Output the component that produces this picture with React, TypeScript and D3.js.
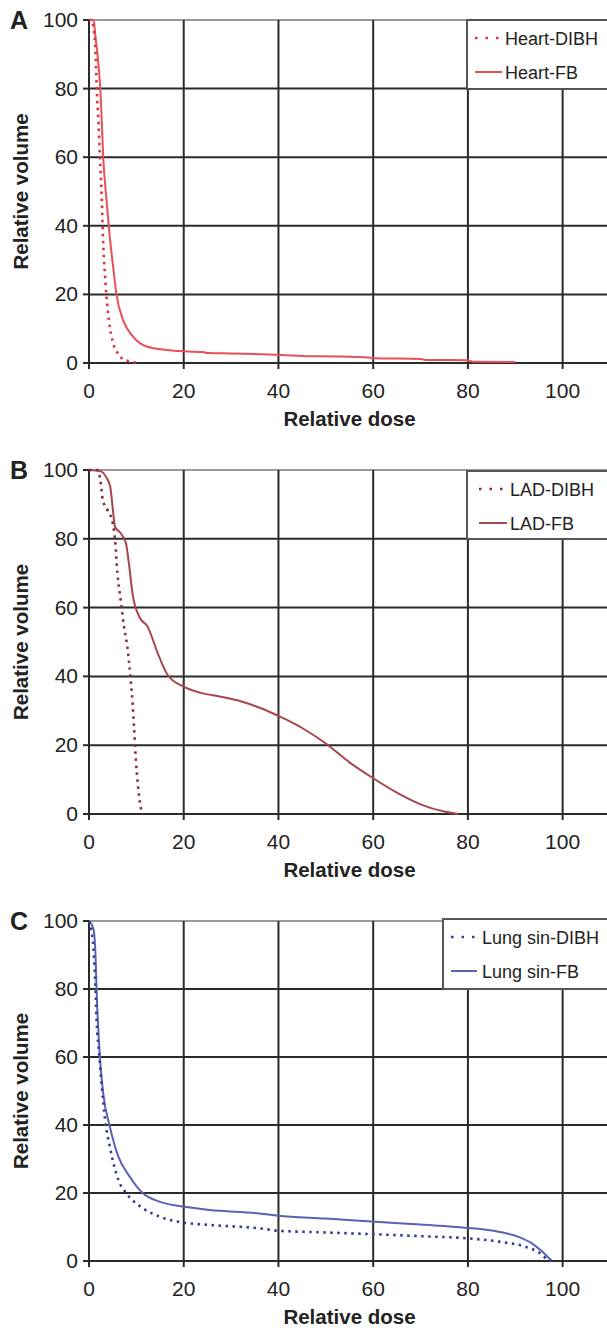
import React from "react";
import * as d3 from "d3";

// ---------- data ----------
const xTicks = [0, 20, 40, 60, 80, 100];
const yTicks = [0, 20, 40, 60, 80, 100];
const panelLetters = ["A", "B", "C"];
const seriesNames = [
  ["Heart-DIBH", "Heart-FB"],
  ["LAD-DIBH", "LAD-FB"],
  ["Lung sin-DIBH", "Lung sin-FB"],
];

const heartDIBH: [number, number][] = [
  [0, 100], [0.6, 100], [1.0, 97], [1.3, 93], [1.6, 81], [2.0, 70], [2.3, 60],
  [2.7, 47.5], [3.0, 35], [3.5, 23], [4.2, 12.5], [5.1, 5.8], [6.0, 3.0],
  [6.9, 1.4], [8.5, 0.5], [10, 0.1],
];
const heartFB: [number, number][] = [
  [0, 100], [1, 100], [1.3, 96], [2, 87], [2.5, 77], [3, 60], [3.7, 47.5],
  [4.3, 38], [5.1, 28], [5.8, 20], [7.2, 12.5], [9.3, 7.7], [12.2, 4.8],
  [16.4, 3.8], [20, 3.4], [24, 3.2], [25, 2.9], [30, 2.8], [38, 2.5], [46, 2.0],
  [52, 1.9], [59, 1.6], [60, 1.4], [70, 1.2], [71, 0.9], [80, 0.8], [81, 0.4],
  [90, 0.3],
];
const ladDIBH: [number, number][] = [
  [0, 100], [1.8, 100], [2.5, 96], [2.9, 91.3], [3.9, 88.4], [5.0, 84.6],
  [5.5, 79.7], [6.0, 70], [6.6, 63.2], [7.4, 54.4], [8.1, 48.6], [8.8, 39],
  [9.2, 32.2], [9.5, 25.4], [9.9, 15.7], [10.3, 8.9], [10.9, 2.1], [11.4, 0],
];
const ladFB: [number, number][] = [
  [0, 100], [2.5, 99.6], [3.6, 98], [4.5, 95], [5.0, 89], [5.5, 83.5],
  [6.7, 81.6], [7.8, 78.7], [8.5, 72], [9.2, 64], [10.6, 57.4], [12.4, 54.4],
  [14.5, 46.8], [16.6, 40.4], [20, 37], [23.6, 35.2], [27.8, 34.1], [32, 32.8],
  [36.2, 30.8], [40, 28.5], [45, 25], [50, 20.5], [55, 15], [60, 10.4],
  [65, 6.2], [70, 2.8], [75, 0.7], [78, 0],
];
const lungDIBH: [number, number][] = [
  [0, 100], [0.6, 96.4], [0.9, 92.4], [1.3, 82.6], [1.6, 70.9], [2.2, 60],
  [2.7, 51.3], [3.4, 41.5], [4.4, 33.6], [6.2, 23.8], [7.9, 19.9], [11.4, 15.5],
  [15, 13], [19.9, 11.3], [25.5, 10.6], [36, 9.6], [40, 8.9], [50, 8.4],
  [59.7, 7.9], [70, 7.3], [79.5, 6.7], [86.5, 5.7], [92.1, 4.2], [95, 2.5],
  [97, 0.3], [97.7, 0],
];
const lungFB: [number, number][] = [
  [0, 100], [0.9, 97.8], [1.3, 92.4], [1.6, 79.7], [2.3, 60], [3.0, 49.3],
  [4.4, 39.5], [6.2, 30.7], [8.6, 24.8], [11.4, 19.9], [15, 17.4], [19.9, 16],
  [25.5, 15], [36, 14], [40, 13.3], [50, 12.5], [59.7, 11.6], [70, 10.7],
  [79.5, 9.8], [86.5, 8.6], [90.7, 7.1], [93.5, 5.2], [95.5, 3], [97.7, 0],
];

const panelSeries = [
  [heartDIBH, heartFB],
  [ladDIBH, ladFB],
  [lungDIBH, lungFB],
];

// ---------- layout / style ----------
const W = 607;
const H = 1329;
const FONT = "Liberation Sans, Arial, Helvetica, sans-serif";
const panels = [
  { top: 20, bottom: 363, legX: 467, legTop: 20, legBottom: 89, sx0: 8, sx1: 35, tx: 38, colors: ["#e0303e", "#e8505a"] },
  { top: 470, bottom: 814, legX: 467, legTop: 471, legBottom: 539, sx0: 12, sx1: 40, tx: 43, colors: ["#8e2a3c", "#a8464f"] },
  { top: 921, bottom: 1261, legX: 443, legTop: 919, legBottom: 989, sx0: 8, sx1: 34, tx: 39, colors: ["#343c98", "#5a62b2"] },
];
const xLeft = 89;
const xRight = 610;
const gridColor = "#2b2b2b";

function Panel({ idx }: { idx: number }) {
  const p = panels[idx];
  const x = d3.scaleLinear().domain([0, 110]).range([xLeft, xRight]);
  const y = d3.scaleLinear().domain([0, 100]).range([p.bottom, p.top]);
  const line = d3
    .line<[number, number]>()
    .x((d) => x(d[0]))
    .y((d) => y(d[1]))
    .curve(d3.curveMonotoneX);
  const [dibh, fb] = panelSeries[idx];
  const names = seriesNames[idx];
  const row1 = p.legTop + 18;
  const row2 = p.legTop + 52;
  return (
    <g>
      <line x1={xLeft} x2={W + 5} y1={y(100)} y2={y(100)} stroke="#9a9a9a" strokeWidth={2} />
      {yTicks.filter((t) => t > 0 && t < 100).map((t) => (
        <line key={"h" + t} x1={xLeft} x2={W + 5} y1={y(t)} y2={y(t)} stroke={gridColor} strokeWidth={2} />
      ))}
      {xTicks.filter((t) => t > 0).map((t) => (
        <line key={"v" + t} x1={x(t)} x2={x(t)} y1={y(100)} y2={y(0) + 6} stroke={gridColor} strokeWidth={2} />
      ))}
      <line x1={x(0)} x2={x(0)} y1={y(100)} y2={y(0) + 6} stroke={gridColor} strokeWidth={2} />
      <line x1={x(0) - 6} x2={W + 5} y1={y(0)} y2={y(0)} stroke={gridColor} strokeWidth={2} />
      {yTicks.map((t) => (
        <line key={"yt" + t} x1={x(0) - 6} x2={x(0)} y1={y(t)} y2={y(t)} stroke={gridColor} strokeWidth={2} />
      ))}
      {yTicks.map((t) => (
        <text key={"yl" + t} x={78} y={y(t) + 7} textAnchor="end" fontSize={21} fill="#222" fontFamily={FONT}>
          {t}
        </text>
      ))}
      {xTicks.map((t) => (
        <text key={"xl" + t} x={x(t)} y={y(0) + 35} textAnchor="middle" fontSize={21} fill="#222" fontFamily={FONT}>
          {t}
        </text>
      ))}
      <text x={(xLeft + xRight) / 2} y={y(0) + 63} textAnchor="middle" fontSize={20.5} fontWeight="bold" fill="#222" fontFamily={FONT}>
        Relative dose
      </text>
      <text
        transform={`translate(28, ${(p.top + p.bottom) / 2}) rotate(-90)`}
        textAnchor="middle"
        fontSize={20.5}
        fontWeight="bold"
        fill="#222"
        fontFamily={FONT}
      >
        Relative volume
      </text>
      <text x={10} y={p.top + 9} fontSize={25} fontWeight="bold" fill="#222" fontFamily={FONT}>
        {panelLetters[idx]}
      </text>
      <path d={line(fb) || ""} fill="none" stroke={p.colors[1]} strokeWidth={2} />
      <path d={line(dibh) || ""} fill="none" stroke={p.colors[0]} strokeWidth={2.6} strokeDasharray="2.5,4.5" />
      <rect x={p.legX} y={p.legTop} width={W + 10 - p.legX} height={p.legBottom - p.legTop} fill="#fff" stroke="#555" strokeWidth={2} />
      <line x1={p.legX + p.sx0} x2={p.legX + p.sx1} y1={row1} y2={row1} stroke={p.colors[0]} strokeWidth={2.6} strokeDasharray="2.5,8" />
      <line x1={p.legX + p.sx0} x2={p.legX + p.sx1} y1={row2} y2={row2} stroke={p.colors[1]} strokeWidth={2} />
      <text x={p.legX + p.tx} y={row1 + 7} fontSize={18} fill="#222" fontFamily={FONT}>
        {names[0]}
      </text>
      <text x={p.legX + p.tx} y={row2 + 7} fontSize={18} fill="#222" fontFamily={FONT}>
        {names[1]}
      </text>
    </g>
  );
}

export default function App() {
  return (
    <svg
      width={W}
      height={H}
      viewBox={`0 0 ${W} ${H}`}
      style={{ position: "absolute", left: 0, top: 0, background: "#fff" }}
    >
      <rect x={0} y={0} width={W} height={H} fill="#fff" />
      {panels.map((_, i) => (
        <Panel key={i} idx={i} />
      ))}
    </svg>
  );
}
